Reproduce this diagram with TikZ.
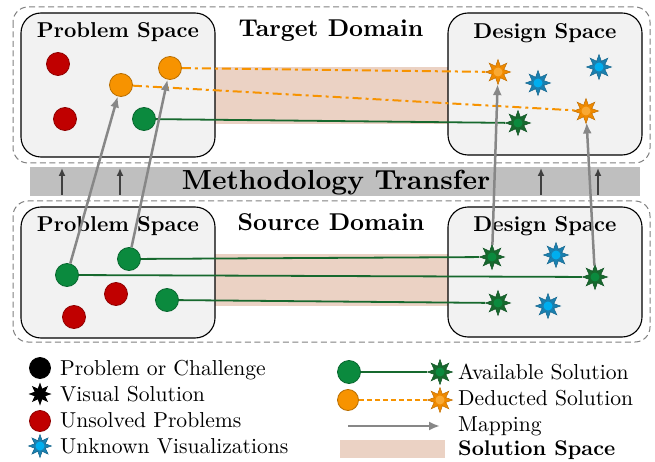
\documentclass[tikz,border=0pt]{standalone}
\usepackage{fontspec}
\setmainfont{lmroman10-regular.otf}[BoldFont=lmroman10-bold.otf]
\usetikzlibrary{shapes.geometric, arrows.meta}
\definecolor{unsred}{HTML}{C00000}
\definecolor{solgreen}{HTML}{0B8A3E}
\definecolor{stargreen}{HTML}{17692E}
\definecolor{dedorange}{HTML}{F79300}
\definecolor{starorange}{HTML}{F08A00}
\definecolor{unkblue}{HTML}{1A80B0}
\definecolor{unkcyan}{HTML}{00AEEF}
\definecolor{solspace}{HTML}{EBD2C4}
\definecolor{boxgray}{HTML}{F2F2F2}
\definecolor{bandgray}{HTML}{BFBFBF}
\definecolor{mapgray}{HTML}{878787}
\tikzset{
  domainbox/.style={draw=black!50, dash pattern=on 6pt off 3.5pt, rounded corners=15pt, line width=1pt},
  spacebox/.style={draw=black, fill=boxgray, rounded corners=20pt, line width=1.1pt},
  title/.style={font=\fontsize{21.5}{24}\selectfont\bfseries, inner sep=0pt},
  domaintitle/.style={font=\fontsize{24.3}{27}\selectfont\bfseries, inner sep=0pt},
  legendtext/.style={font=\fontsize{21.6}{24}\selectfont, inner sep=0pt},
  dot/.style={circle, inner sep=0pt, minimum size=23pt, fill=#1, draw=#1!75!black, line width=0.8pt},
  vstar/.style 2 args={star, star points=8, star point ratio=2, inner sep=0pt, minimum size=25pt,
    fill=#1, draw=#1!80!black, line width=0.5pt,
    path picture={\fill [#2] (path picture bounding box.center) circle (4.5pt);}},
  available/.style={draw=stargreen, line width=1.8pt},
  deducted/.style={draw=dedorange, line width=2pt, dash pattern=on 9pt off 4pt on 3pt off 4pt},
  mapping/.style={draw=mapgray, line width=2.5pt, -{Latex[length=11pt, width=9pt]}},
  uparrow/.style={draw=black!75, line width=2pt, -{Latex[length=8pt, width=7pt]}}
}
\begin{document}
\begin{tikzpicture}[x=1pt, y=-1pt]
    \useasboundingbox (0,0) rectangle (655,462);

    \draw [domainbox] (13,7) rectangle (650,163); % target domain
    \draw [domainbox] (13,201) rectangle (650,342); % source domain
    \fill [solspace] (215,67) rectangle (448,124);
    \fill [solspace] (215,254) rectangle (448,306);

    % methodology transfer
    \fill [bandgray] (30,167) rectangle (640,196);
    \node [domaintitle, font=\fontsize{27.6}{30}\selectfont\bfseries, anchor=base] (transfer) at (336,190) {Methodology Transfer};
    \foreach \x [count=\i] in {62,120,541,598} {
        \coordinate (up\i a) at (\x,195);
        \coordinate (up\i b) at (\x,168);
        \draw [uparrow] (up\i a) -- (up\i b);
    }

    \draw [spacebox] (21,13) rectangle (215,157);
    \draw [spacebox] (448,13) rectangle (642,155);
    \draw [spacebox] (21,207) rectangle (215,338);
    \draw [spacebox] (448,207) rectangle (642,337);
    \node [title, anchor=base] (tps) at (118,38) {Problem Space};
    \node [title, anchor=base] (tds) at (545,39) {Design Space};
    \node [domaintitle, anchor=base] (tdom) at (331,37) {Target Domain};
    \node [title, anchor=base] (sps) at (118,232) {Problem Space};
    \node [title, anchor=base] (sds) at (545,231) {Design Space};
    \node [domaintitle, anchor=base] (sdom) at (331,230) {Source Domain};

    % target domain
    \node [dot=unsred] (tr1) at (58,64) {};
    \node [dot=unsred] (tr2) at (65,119) {};
    \node [dot=dedorange] (to1) at (121,85) {};
    \node [dot=dedorange] (to2) at (170,68) {};
    \node [dot=solgreen] (tg1) at (144,119) {};
    \node [vstar={starorange}{dedorange!80!white}] (tso1) at (498,72) {};
    \node [vstar={starorange}{dedorange!80!white}] (tso2) at (586,111) {};
    \node [vstar={unkblue}{unkcyan}] (tsb1) at (538,83) {};
    \node [vstar={unkblue}{unkcyan}] (tsb2) at (599,67) {};
    \node [vstar={stargreen}{solgreen}] (tsg1) at (518,123) {};

    % source domain
    \node [dot=solgreen] (sg1) at (67,275) {};
    \node [dot=solgreen] (sg2) at (129,259) {};
    \node [dot=solgreen] (sg3) at (167,300) {};
    \node [dot=unsred] (sr1) at (116,294) {};
    \node [dot=unsred] (sr2) at (74,317) {};
    \node [vstar={stargreen}{solgreen}] (ssg1) at (492,257) {};
    \node [vstar={stargreen}{solgreen}] (ssg2) at (595,277) {};
    \node [vstar={stargreen}{solgreen}] (ssg3) at (498,303) {};
    \node [vstar={unkblue}{unkcyan}] (ssb1) at (556,255) {};
    \node [vstar={unkblue}{unkcyan}] (ssb2) at (548,306) {};

    \draw [available] (tg1) -- (tsg1);
    \draw [deducted] (to2) -- (tso1);
    \draw [deducted] (to1) -- (tso2);
    \draw [available] (sg2) -- (ssg1);
    \draw [available] (sg1) -- (ssg2);
    \draw [available] (sg3) -- (ssg3);
    \draw [mapping] (sg1) -- (to1);
    \draw [mapping] (sg2) -- (to2);
    \draw [mapping] (ssg1) -- (tso1);
    \draw [mapping] (ssg2) -- (tso2);

    % legend
    \node [dot=black, minimum size=21pt] (lprob) at (40,368) {};
    \node [star, star points=8, star point ratio=2, inner sep=0pt, minimum size=23pt, fill=black] (lvis) at (40,394) {};
    \node [dot=unsred, minimum size=21pt] (lred) at (40,421) {};
    \node [vstar={unkblue}{unkcyan}, minimum size=23pt] (lunk) at (40,446) {};
    \node [legendtext, anchor=base west] (tprob) at (60,375) {Problem or Challenge};
    \node [legendtext, anchor=base west] (tvis) at (60,401) {Visual Solution};
    \node [legendtext, anchor=base west] (tred) at (60,427) {Unsolved Problems};
    \node [legendtext, anchor=base west] (tunk) at (60,453) {Unknown Visualizations};

    \node [dot=solgreen] (lav1) at (349,372) {};
    \node [vstar={stargreen}{solgreen}] (lav2) at (440,372) {};
    \draw [available] (lav1) -- (lav2);
    \node [dot=dedorange, minimum size=21pt] (lde1) at (348,400) {};
    \node [vstar={starorange}{dedorange!80!white}] (lde2) at (440,400) {};
    \draw [draw=dedorange, line width=1.8pt, dash pattern=on 5pt off 3pt] (lde1) -- (lde2);
    \coordinate (lmap1) at (348,426);
    \coordinate (lmap2) at (440,426);
    \draw [mapping] (lmap1) -- (lmap2);
    \fill [solspace] (340,440) rectangle (445,458);
    \node [legendtext, anchor=base west] (tav) at (458,379) {Available Solution};
    \node [legendtext, anchor=base west] (tde) at (458,405) {Deducted Solution};
    \node [legendtext, anchor=base west] (tmap) at (458,431) {Mapping};
    \node [legendtext, font=\fontsize{21.2}{24}\selectfont\bfseries, anchor=base west] (tsol) at (458,455) {Solution Space};
\end{tikzpicture}
\end{document}
